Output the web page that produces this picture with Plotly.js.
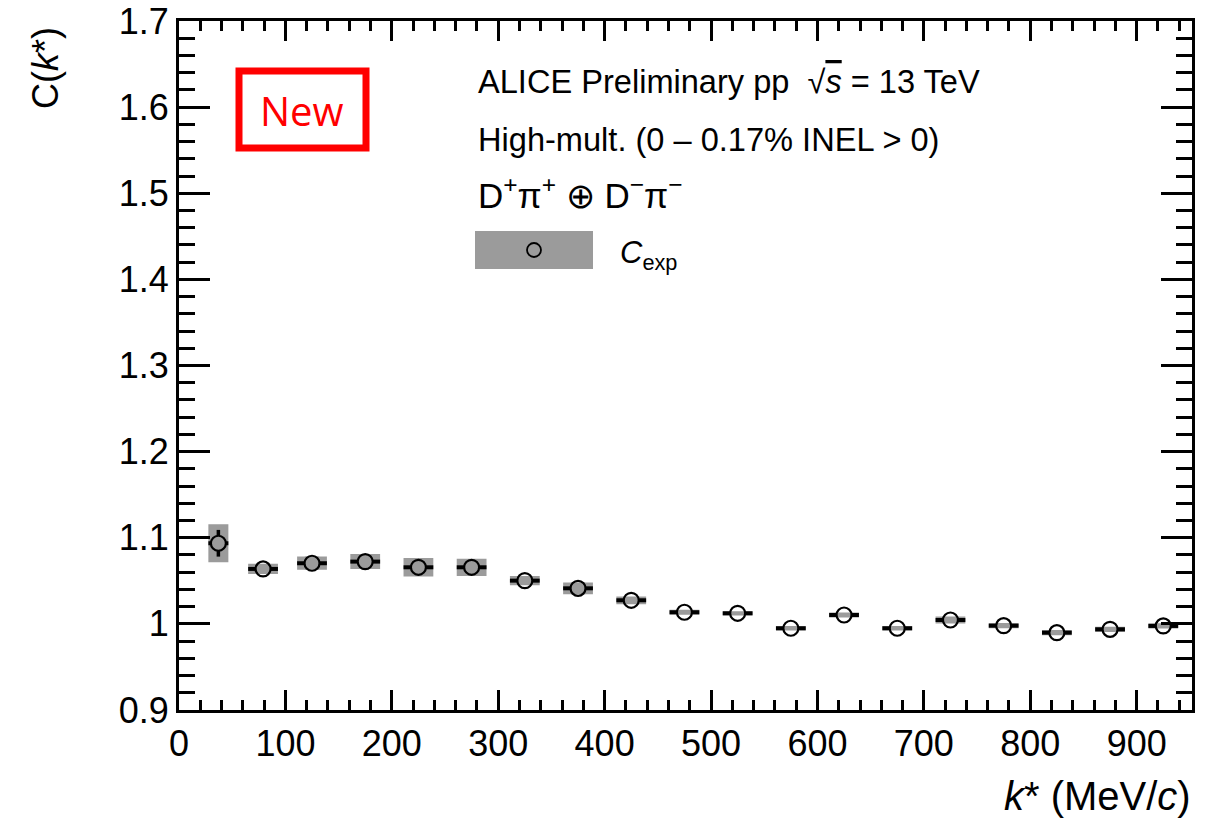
<!DOCTYPE html>
<html>
<head>
<meta charset="utf-8">
<script src="https://cdn.plot.ly/plotly-3.0.1.min.js"></script>
<style>
html,body{margin:0;padding:0;background:#fff;}
#chart{width:1220px;height:819px;}
</style>
</head>
<body>
<div id="chart"></div>
<script>
// ---- data ----
const kstar = [37, 79, 125, 175, 225, 275, 325, 375, 425, 475, 525, 575, 625, 675, 725, 775, 825, 875, 925];
const cexp  = [1.0936, 1.0638, 1.0704, 1.0723, 1.0657, 1.0657, 1.0502, 1.0413, 1.0274, 1.0135, 1.0123, 0.9949, 1.0103, 0.9949, 1.0045, 0.9979, 0.9898, 0.9937, 0.9976];
const statErr = [0.0155, 0.004, 0.004, 0.004, 0.004, 0.004, 0.003, 0.003, 0.003, 0.003, 0.003, 0.003, 0.003, 0.003, 0.003, 0.003, 0.003, 0.003, 0.003];
const systErr = [0.022, 0.006, 0.0077, 0.0087, 0.0108, 0.010, 0.0054, 0.0068, 0.0045, 0.003, 0.0025, 0.0025, 0.003, 0.0025, 0.004, 0.003, 0.003, 0.003, 0.003];
const kHalf = [9.4, 14, 14, 14, 14, 14, 14, 14, 14, 14, 14, 14, 14, 14, 14, 14, 14, 14, 14];
const xTickVals = [0, 100, 200, 300, 400, 500, 600, 700, 800, 900];
const yTickVals = [0.9, 1.0, 1.1, 1.2, 1.3, 1.4, 1.5, 1.6, 1.7];
const yTickText = ["0.9", "1", "1.1", "1.2", "1.3", "1.4", "1.5", "1.6", "1.7"];

// ---- layout geometry ----
const W = 1220, H = 819;
const M = {l: 179, r: 28, t: 21, b: 109};
const plotW = W - M.l - M.r, plotH = H - M.t - M.b;
const xRange = [0, 952], yRange = [0.9, 1.7];
const px = x => (x - M.l) / plotW;          // pixel -> paper
const py = y => (H - M.b - y) / plotH;
const GRAY = '#9b9b9b';
const MARK = 15;                            // marker diameter px
const rx = (MARK / 2) * (xRange[1] - xRange[0]) / plotW;   // marker radius in data units
const ry = (MARK / 2) * (yRange[1] - yRange[0]) / plotH;

function boxes(hx, hy) {
  const X = [], Y = [];
  kstar.forEach((k, i) => {
    const a = hx[i], b = hy[i];
    X.push(k - a, k + a, k + a, k - a, k - a, null);
    Y.push(cexp[i] - b, cexp[i] - b, cexp[i] + b, cexp[i] + b, cexp[i] - b, null);
  });
  return {X, Y};
}
const full = boxes(kHalf, systErr);
const inner = boxes(kHalf.map(v => Math.min(v, rx * 0.95)), systErr.map(v => Math.min(v, ry * 0.95)));

const traces = [
  {x: full.X, y: full.Y, type: 'scatter', mode: 'lines', fill: 'toself', fillcolor: GRAY,
   line: {width: 0, color: GRAY}, hoverinfo: 'skip', showlegend: false},
  {x: kstar, y: cexp, type: 'scatter', mode: 'markers',
   marker: {size: MARK, color: 'rgba(0,0,0,0)'},
   error_y: {type: 'data', array: statErr, visible: true, thickness: 3.5, width: 0, color: '#000'},
   error_x: {type: 'data', array: kHalf, visible: true, thickness: 4, width: 0, color: '#000'},
   hoverinfo: 'skip', showlegend: false},
  {x: kstar, y: cexp, type: 'scatter', mode: 'markers',
   marker: {size: MARK, color: '#ffffff', line: {width: 0}}, hoverinfo: 'skip', showlegend: false},
  {x: inner.X, y: inner.Y, type: 'scatter', mode: 'lines', fill: 'toself', fillcolor: GRAY,
   line: {width: 0, color: GRAY}, hoverinfo: 'skip', showlegend: false},
  {x: kstar, y: cexp, type: 'scatter', mode: 'markers', name: 'C<sub>exp</sub>',
   marker: {size: MARK, color: 'rgba(0,0,0,0)', symbol: 'circle', line: {width: 2.2, color: '#000'}},
   hoverinfo: 'skip', showlegend: false}
];

const FONT = 'Liberation Sans';

const axisCommon = {
  showgrid: false, zeroline: false, showline: true, linecolor: '#000', linewidth: 3,
  mirror: 'allticks', ticks: 'inside', tickcolor: '#000', tickwidth: 3
};

const layout = {
  width: W, height: H,
  margin: M,
  paper_bgcolor: '#fff', plot_bgcolor: '#fff',
  showlegend: false,
  font: {family: FONT, color: '#000'},
  xaxis: Object.assign({}, axisCommon, {
    range: xRange, tickmode: 'array', tickvals: xTickVals, ticklen: 20,
    minor: {dtick: 20, tick0: 0, ticks: 'inside', ticklen: 10, tickwidth: 3, tickcolor: '#000'},
    tickfont: {family: FONT, size: 36, color: '#000'}
  }),
  yaxis: Object.assign({}, axisCommon, {
    range: yRange, tickmode: 'array', tickvals: yTickVals, ticktext: yTickText, ticklen: 31,
    minor: {dtick: 0.02, tick0: 0.9, ticks: 'inside', ticklen: 16, tickwidth: 3, tickcolor: '#000'},
    tickfont: {family: FONT, size: 36, color: '#000'}
  }),
  annotations: [
    {xref: 'paper', yref: 'paper', x: px(1193), y: py(796), xanchor: 'right', yanchor: 'middle',
     text: '<i>k</i>* (MeV/<i>c</i>)', showarrow: false, font: {family: FONT, size: 40, color: '#000'}},
    {xref: 'paper', yref: 'paper', x: px(45), y: py(68), xanchor: 'center', yanchor: 'middle', textangle: -90,
     text: 'C(<i>k</i>*)', showarrow: false, font: {family: FONT, size: 36, color: '#000'}},
    {xref: 'paper', yref: 'paper', x: px(476), y: py(81), xanchor: 'left', yanchor: 'middle',
     text: 'ALICE Preliminary pp  √<span style="text-decoration:overline"><i>s</i></span> = 13 TeV', showarrow: false,
     font: {family: FONT, size: 32.6, color: '#000'}},
    {xref: 'paper', yref: 'paper', x: px(476), y: py(139), xanchor: 'left', yanchor: 'middle',
     text: 'High-mult. (0 \u2013 0.17% INEL > 0)', showarrow: false,
     font: {family: FONT, size: 32.6, color: '#000'}},
    {xref: 'paper', yref: 'paper', x: px(476), y: py(193), xanchor: 'left', yanchor: 'middle',
     text: 'D<sup>+</sup>\u03c0<sup>+</sup> \u2295 D<sup>\u2212</sup>\u03c0<sup>\u2212</sup>', showarrow: false,
     font: {family: FONT, size: 35, color: '#000'}},
    {xref: 'paper', yref: 'paper', x: px(618), y: py(255), xanchor: 'left', yanchor: 'middle',
     text: '<i>C</i><sub>exp</sub>', showarrow: false,
     font: {family: FONT, size: 31, color: '#000'}},
    {xref: 'paper', yref: 'paper', x: px(302), y: py(110), xanchor: 'center', yanchor: 'middle',
     text: 'New', showarrow: false,
     font: {family: 'Open Sans', size: 40, color: '#ff0000'}}
  ],
  shapes: [
    {type: 'rect', xref: 'paper', yref: 'paper', x0: px(239), x1: px(366), y0: py(71), y1: py(148),
     line: {color: '#ff0000', width: 7}, fillcolor: 'rgba(0,0,0,0)'},
    {type: 'rect', xref: 'paper', yref: 'paper', x0: px(475), x1: px(593), y0: py(231), y1: py(269),
     line: {width: 0}, fillcolor: GRAY},
    {type: 'circle', xref: 'paper', yref: 'paper', x0: px(527), x1: px(541), y0: py(243), y1: py(257),
     line: {color: '#000', width: 1.8}, fillcolor: 'rgba(0,0,0,0)'}
  ]
};

Plotly.newPlot('chart', traces, layout, {staticPlot: true, displayModeBar: false});
</script>
</body>
</html>
